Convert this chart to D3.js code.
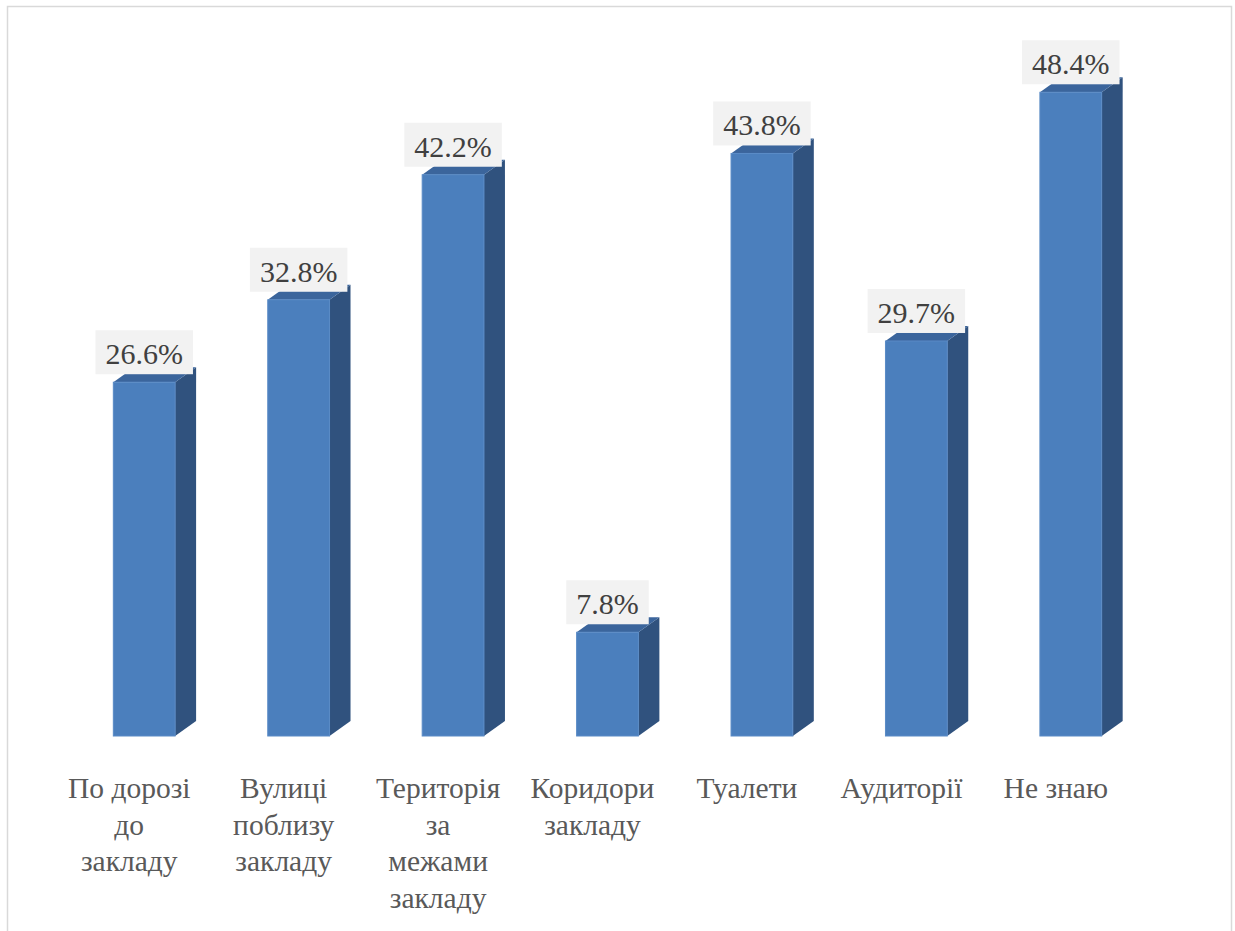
<!DOCTYPE html>
<html>
<head>
<meta charset="utf-8">
<script src="https://cdn.jsdelivr.net/npm/d3@7"></script>
<style>
  html, body { margin: 0; padding: 0; background: #ffffff; }
  svg { display: block; }
</style>
</head>
<body>
<script>
// Where incidents happen: share of respondents per location
const categories = [
  ["По дорозі", "до", "закладу"],
  ["Вулиці", "поблизу", "закладу"],
  ["Територія", "за", "межами", "закладу"],
  ["Коридори", "закладу"],
  ["Туалети"],
  ["Аудиторії"],
  ["Не знаю"]
];
const values = [26.6, 32.8, 42.2, 7.8, 43.8, 29.7, 48.4];
const valueLabels = ["26.6%", "32.8%", "42.2%", "7.8%", "43.8%", "29.7%", "48.4%"];

const W = 1235, H = 931;
const fontName = '"Liberation Serif"';
const depthX = 21, depthY = 15;

// text widths for the label boxes, measured off-screen
const measureCtx = document.createElement("canvas").getContext("2d");
measureCtx.font = '30px "Liberation Serif"';

const svg = d3.select("body").append("svg")
  .attr("width", W).attr("height", H)
  .style("font-family", fontName);

// chart frame
svg.append("rect")
  .attr("x", 7.5).attr("y", 6.5)
  .attr("width", 1224).attr("height", 940)
  .attr("fill", "#ffffff")
  .attr("stroke", "#d9d9d9").attr("stroke-width", 1.5);

const keys = categories.map((c, i) => i);
const x = d3.scaleBand().domain(keys).range([67, 1148])
  .paddingInner(0.6).paddingOuter(0.3);
const y = d3.scaleLinear().domain([0, 50]).range([736, 71]);

const bars = svg.append("g").selectAll("g.bar")
  .data(values).enter().append("g").attr("class", "bar");

bars.each(function(v, i) {
  const g = d3.select(this);
  const x0 = x(i), x1 = x(i) + x.bandwidth();
  const yt = y(v), yb = y(0);
  // right side face
  g.append("path")
    .attr("d", `M${x1},${yt} L${x1 + depthX},${yt - depthY} L${x1 + depthX},${yb - depthY} L${x1},${yb} Z`)
    .attr("fill", "#30527e");
  // top face
  g.append("path")
    .attr("d", `M${x0},${yt} L${x0 + depthX},${yt - depthY} L${x1 + depthX},${yt - depthY} L${x1},${yt} Z`)
    .attr("fill", "#3b659c");
  // front face
  g.append("rect")
    .attr("x", x0).attr("y", yt)
    .attr("width", x.bandwidth()).attr("height", yb - yt)
    .attr("fill", "#4b7fbd")
    .attr("stroke", "#5a8bc6").attr("stroke-width", 1);
});

// value labels on light boxes
const lab = svg.append("g").selectAll("g.lab")
  .data(values).enter().append("g").attr("class", "lab");

lab.each(function(v, i) {
  const g = d3.select(this);
  const cx = x(i) + x.bandwidth() / 2;
  const boxBottom = y(v) - depthY + 7;
  const w = measureCtx.measureText(valueLabels[i]).width + 20;
  g.append("rect")
    .attr("x", cx - w / 2).attr("y", boxBottom - 44)
    .attr("width", w).attr("height", 44)
    .attr("fill", "#f2f2f2");
  g.append("text")
    .attr("x", cx).attr("y", boxBottom - 10)
    .attr("text-anchor", "middle")
    .style("font-family", fontName).style("font-size", "30px")
    .attr("fill", "#404040")
    .text(valueLabels[i]);
});

// category labels, wrapped, sitting slightly left of the bar centres
const cats = svg.append("g").selectAll("text.cat")
  .data(categories).enter().append("text")
  .attr("class", "cat")
  .attr("text-anchor", "middle")
  .style("font-family", fontName).style("font-size", "29.5px")
  .attr("fill", "#595959")
  .attr("transform", (d, i) => `translate(${x(i) + x.bandwidth() / 2 - 15},798)`);

cats.selectAll("tspan").data(d => d).enter().append("tspan")
  .attr("x", 0).attr("y", (d, j) => j * 36.7)
  .text(d => d);
</script>
</body>
</html>
